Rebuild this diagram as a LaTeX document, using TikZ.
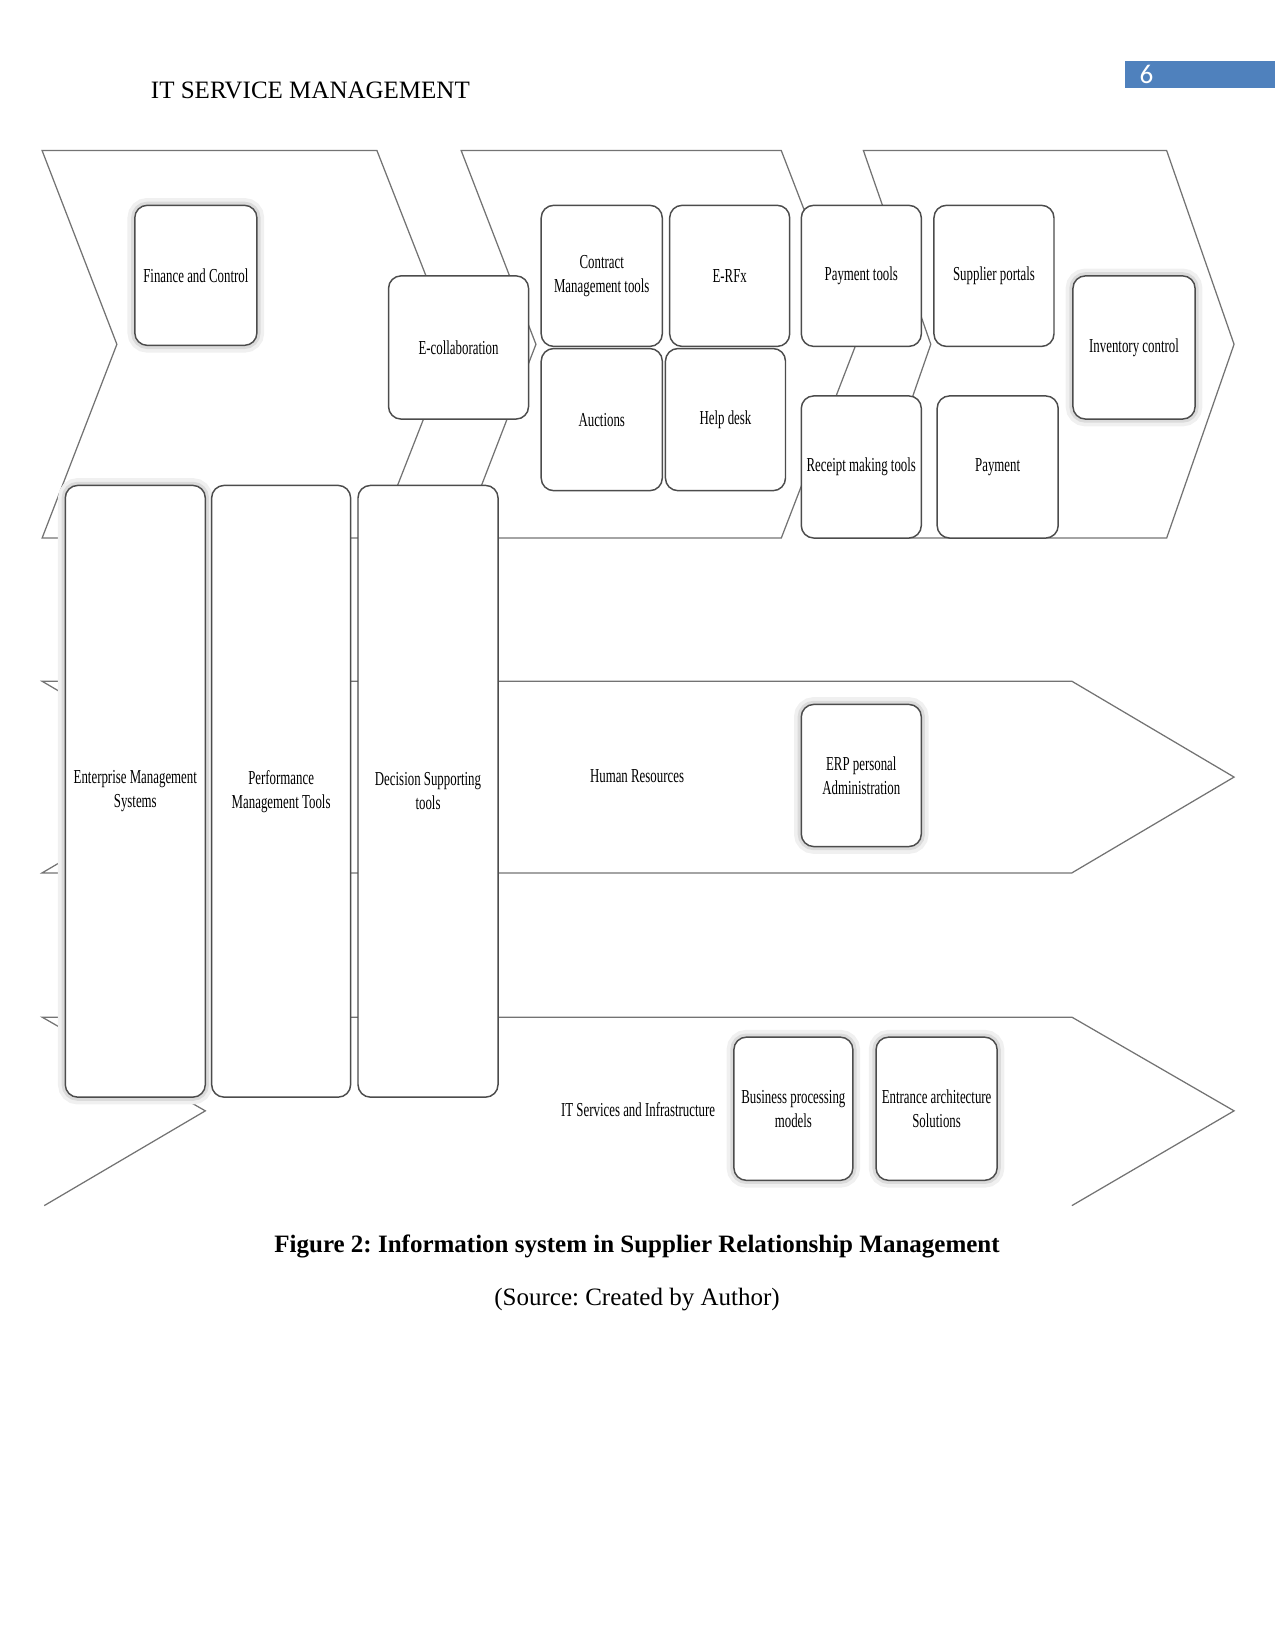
\documentclass[tikz,border=0pt]{standalone}
\usepackage{fontspec}
\setmainfont{Liberation Serif}
\newfontfamily\boxfont[FakeStretch=0.65]{Liberation Serif}
\newfontfamily\numfont{Carlito}
\definecolor{accentblue}{RGB}{79,129,189}
\frenchspacing
% name, x1, y1, x2, y2, extra style, text
\newcommand\mybox[7]{%
  \node[box,#6,minimum width={(#4-#2)*0.50537pt},minimum height={(#5-#3)*0.50537pt}] (#1) at ({(#2+#4)/2},{(#3+#5)/2}) {#7};}
\begin{document}
\begin{tikzpicture}[x=0.50537pt,y=-0.50537pt,
  box/.style={draw=black!70, line width=0.7pt, fill=white, rounded corners=6pt, align=center, inner sep=1pt,
    font=\boxfont\fontsize{9.5}{11.6}\selectfont},
  glow/.style={preaction={draw=black!6,line width=7pt}, preaction={draw=black!14,line width=3.5pt}},
  chev/.style={draw=black!55, line width=0.6pt},
  lbl/.style={font=\boxfont\fontsize{9.5}{11.6}\selectfont}]
\useasboundingbox (0,0) rectangle (1211,1568);

% header
\node[anchor=base west, inner sep=0pt, font=\fontsize{12}{14}\selectfont] (hdr) at (143,94) {IT SERVICE MANAGEMENT};
\path[fill=accentblue] (1068,58) rectangle (1211,84);
\node[anchor=west, inner sep=0pt, text=white, font=\numfont\fontsize{13}{15}\selectfont] (pg) at (1082,71) {6};

% chevrons (top row)
\draw[chev] (40,143) -- (358,143) -- (430,327) -- (358,511) -- (40,511) -- (111,327) -- cycle;
\draw[chev] (438,143) -- (742,143) -- (813,327) -- (742,511) -- (438,511) -- (509,327) -- cycle;
\draw[chev] (820,143) -- (1108,143) -- (1172,327) -- (1108,511) -- (820,511) -- (884,327) -- cycle;
% arrows (middle and bottom rows)
\draw[chev] (40,647) -- (1018,647) -- (1172,738) -- (1018,829) -- (40,829) -- (195,738) -- cycle;
\draw[chev] (1018,1145) -- (1172,1055) -- (1018,966) -- (40,966) -- (195,1055) -- (42,1145);

% top row boxes
\mybox{fin}{128}{195}{244}{328}{glow}{Finance and Control}
\mybox{ecol}{369}{262}{502}{398}{}{E-collaboration}
\mybox{cmt}{514}{195}{629}{329}{}{Contract\\Management tools}
\mybox{erfx}{636}{195}{750}{329}{}{E-RFx}
\mybox{auc}{514}{331}{629}{466}{}{Auctions}
\mybox{help}{632}{331}{746}{466}{}{Help desk}
\mybox{pay}{761}{195}{875}{329}{}{Payment tools}
\mybox{sup}{887}{195}{1001}{329}{}{Supplier portals}
\mybox{rec}{761}{376}{875}{511}{}{Receipt making tools}
\mybox{paym}{890}{376}{1005}{511}{}{Payment}
\mybox{inv}{1019}{262}{1135}{398}{glow}{Inventory control}

% tall boxes
\mybox{ems}{62}{461}{195}{1042}{glow}{Enterprise Management\\Systems}
\mybox{pmt}{201}{461}{333}{1042}{}{Performance\\Management Tools}
\mybox{dst}{340}{461}{473}{1042}{}{Decision Supporting\\tools}

% middle row
\node[lbl] (hr) at (605,737) {Human Resources};
\mybox{erp}{761}{669}{875}{804}{glow}{ERP personal\\Administration}

% bottom row
\node[lbl] (its) at (606,1054) {IT Services and Infrastructure};
\mybox{bpm}{697}{985}{810}{1121}{glow}{Business processing\\models}
\mybox{eas}{832}{985}{947}{1121}{glow}{Entrance architecture\\Solutions}

% caption
\node[font=\bfseries\fontsize{12}{14}\selectfont] (cap) at (605,1184) {Figure 2: Information system in Supplier Relationship Management};
\node[font=\fontsize{12}{14}\selectfont] (src) at (605,1234) {(Source: Created by Author)};
\end{tikzpicture}
\end{document}
